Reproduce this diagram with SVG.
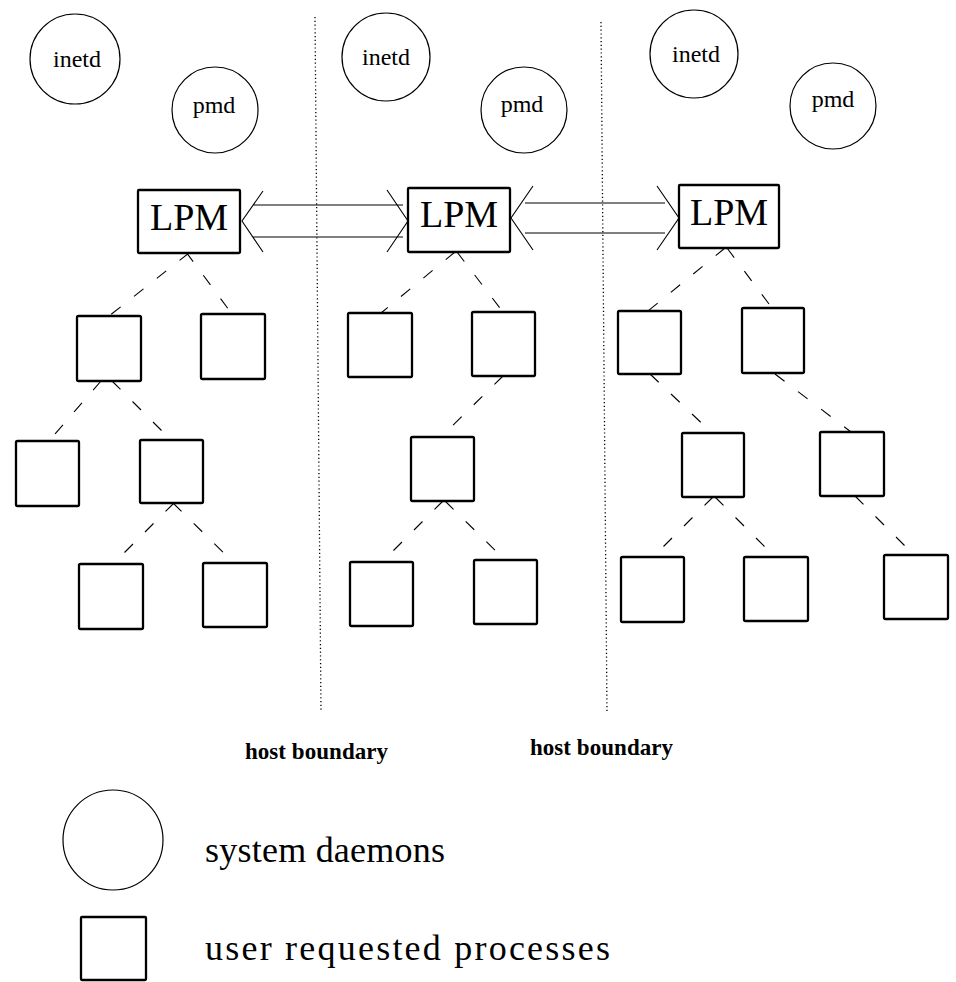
<svg xmlns="http://www.w3.org/2000/svg" width="956" height="982" viewBox="0 0 956 982">
<style>
  .daemon { fill: #fff; stroke: #000; stroke-width: 1.2; }
  .proc { fill: #fff; stroke: #000; stroke-width: 2.3; }
  .lpm { fill: #fff; stroke: #000; stroke-width: 2.3; }
  .dtxt { font-family: "Liberation Serif", serif; font-size: 24px; text-anchor: middle; fill: #000; }
  .ltxt { font-family: "Liberation Serif", serif; font-size: 38px; text-anchor: middle; fill: #000; }
  .htxt { font-family: "Liberation Serif", serif; font-size: 23px; font-weight: bold; fill: #000; }
  .gtxt { font-family: "Liberation Serif", serif; font-size: 36px; fill: #000; }
  .dash { stroke: #000; stroke-width: 1.1; stroke-dasharray: 12 17; fill: none; }
  .dot { stroke: #000; stroke-width: 1.3; stroke-dasharray: 1.2 2.6; fill: none; }
  .arr { stroke: #000; stroke-width: 1.1; fill: none; }
</style>
<rect width="956" height="982" fill="#fff"/>

<g id="boundaries">
  <line class="dot" x1="315" y1="17" x2="321" y2="710"/>
  <line class="dot" x1="601" y1="22" x2="607" y2="712"/>
  <text class="htxt" x="245" y="759" textLength="143">host boundary</text>
  <text class="htxt" x="530" y="755" textLength="143">host boundary</text>
</g>

<g id="connectors">
  <path class="arr" d="M253,205 H403 M253,237 H403 M263,191 L242,221 L263,252 M387,190 L408,221 L387,252"/>
  <path class="arr" d="M525,203 H665 M525,233 H665 M533,186 L511,218 L533,250 M657,186 L679,218 L657,250"/>
  <line class="dash" x1="189" y1="253" x2="109" y2="316"/>
  <line class="dash" x1="186" y1="252" x2="232" y2="314"/>
  <line class="dash" x1="101" y1="381" x2="48" y2="442"/>
  <line class="dash" x1="112" y1="381" x2="172" y2="441"/>
  <line class="dash" x1="174" y1="503" x2="113" y2="564"/>
  <line class="dash" x1="173" y1="503" x2="234" y2="563"/>
  <line class="dash" x1="455" y1="252" x2="381" y2="313"/>
  <line class="dash" x1="457" y1="252" x2="503" y2="312"/>
  <line class="dash" x1="503" y1="376" x2="441" y2="437"/>
  <line class="dash" x1="443" y1="501" x2="382" y2="562"/>
  <line class="dash" x1="445" y1="501" x2="505" y2="560"/>
  <line class="dash" x1="725" y1="248" x2="648" y2="311"/>
  <line class="dash" x1="727" y1="248" x2="772" y2="308"/>
  <line class="dash" x1="650" y1="374" x2="712" y2="433"/>
  <line class="dash" x1="775" y1="374" x2="851" y2="432"/>
  <line class="dash" x1="713" y1="497" x2="653" y2="557"/>
  <line class="dash" x1="715" y1="497" x2="775" y2="557"/>
  <line class="dash" x1="855" y1="496" x2="914" y2="555"/>
</g>

<g id="inetd1"><circle class="daemon" cx="75" cy="59" r="45"/><text class="dtxt" x="77" y="67">inetd</text></g>
<g id="pmd1"><circle class="daemon" cx="215" cy="110" r="43"/><text class="dtxt" x="214" y="113">pmd</text></g>
<g id="inetd2"><circle class="daemon" cx="386" cy="57" r="44"/><text class="dtxt" x="386" y="65">inetd</text></g>
<g id="pmd2"><circle class="daemon" cx="524" cy="110" r="43"/><text class="dtxt" x="522" y="112">pmd</text></g>
<g id="inetd3"><circle class="daemon" cx="694" cy="54" r="44"/><text class="dtxt" x="696" y="62">inetd</text></g>
<g id="pmd3"><circle class="daemon" cx="833" cy="106" r="43"/><text class="dtxt" x="833" y="107">pmd</text></g>

<g id="lpm1"><rect class="lpm" x="138" y="190" width="102" height="63" rx="1"/><text class="ltxt" x="189" y="230">LPM</text></g>
<g id="lpm2"><rect class="lpm" x="408" y="188" width="102" height="64" rx="1"/><text class="ltxt" x="459" y="227">LPM</text></g>
<g id="lpm3"><rect class="lpm" x="679" y="185" width="100" height="63" rx="1"/><text class="ltxt" x="729" y="225">LPM</text></g>

<g id="p1a"><rect class="proc" x="77" y="316" width="64" height="65" rx="1.5"/></g>
<g id="p1b"><rect class="proc" x="201" y="314" width="64" height="65" rx="1.5"/></g>
<g id="p1c"><rect class="proc" x="16" y="441" width="63" height="65" rx="1.5"/></g>
<g id="p1d"><rect class="proc" x="140" y="440" width="63" height="63" rx="1.5"/></g>
<g id="p1e"><rect class="proc" x="79" y="564" width="64" height="65" rx="1.5"/></g>
<g id="p1f"><rect class="proc" x="203" y="563" width="64" height="64" rx="1.5"/></g>

<g id="p2a"><rect class="proc" x="348" y="313" width="64" height="64" rx="1.5"/></g>
<g id="p2b"><rect class="proc" x="472" y="312" width="63" height="64" rx="1.5"/></g>
<g id="p2c"><rect class="proc" x="411" y="437" width="63" height="64" rx="1.5"/></g>
<g id="p2d"><rect class="proc" x="350" y="562" width="63" height="64" rx="1.5"/></g>
<g id="p2e"><rect class="proc" x="474" y="560" width="63" height="64" rx="1.5"/></g>

<g id="p3a"><rect class="proc" x="618" y="311" width="63" height="63" rx="1.5"/></g>
<g id="p3b"><rect class="proc" x="742" y="308" width="62" height="65" rx="1.5"/></g>
<g id="p3c"><rect class="proc" x="682" y="433" width="62" height="64" rx="1.5"/></g>
<g id="p3d"><rect class="proc" x="820" y="432" width="64" height="64" rx="1.5"/></g>
<g id="p3e"><rect class="proc" x="621" y="557" width="63" height="65" rx="1.5"/></g>
<g id="p3f"><rect class="proc" x="744" y="557" width="64" height="64" rx="1.5"/></g>
<g id="p3g"><rect class="proc" x="884" y="555" width="64" height="64" rx="1.5"/></g>

<g id="legend-daemon"><circle class="daemon" cx="113" cy="840" r="50"/><text class="gtxt" x="205" y="862" textLength="240" lengthAdjust="spacing">system daemons</text></g>
<g id="legend-process"><rect class="proc" x="81" y="917" width="65" height="63" rx="1"/><text class="gtxt" x="205" y="960" textLength="405" lengthAdjust="spacing">user requested processes</text></g>
</svg>
